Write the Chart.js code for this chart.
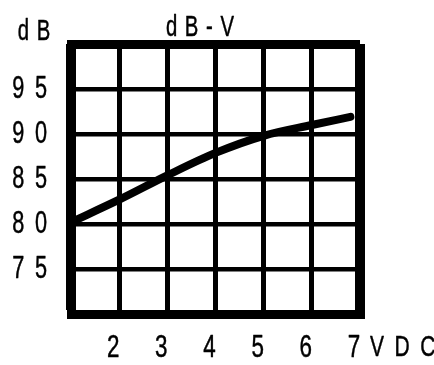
<!DOCTYPE html>
<html>
<head>
<meta charset="utf-8">
<script src="https://cdn.jsdelivr.net/npm/chart.js@4"></script>
<style>
html,body{margin:0;padding:0;background:#fff;overflow:hidden;}
#wrap{width:434px;height:365px;position:relative;}
</style>
</head>
<body>
<div id="wrap"><canvas id="c"></canvas></div>
<script>
// ---- data ----
const voltage = [1, 2, 3, 4, 5, 6, 6.8];
const soundLevel = [80.2, 82.7, 85.4, 87.9, 89.8, 91.0, 91.9];
const yTickValues = [75, 80, 85, 90, 95];
const yTickLabels = ['75', '80', '85', '90', '95'];
const xTickValues = [2, 3, 4, 5, 6, 7];
const xTickLabels = ['2', '3', '4', '5', '6', '7'];
const titleText = 'dB-V';
const yUnitText = 'dB';
const xUnitText = 'VDC';

const FONT = "'Liberation Sans', Arial, sans-serif";
const TEXT_SCALE_X = 0.7;     // tall, narrow lettering of the original print

function spacingFor(font) {
  const m = /(\d+(?:\.\d+)?)px/.exec(font);
  const size = m ? parseFloat(m[1]) : 12;
  return size <= 29 ? 11 : 15;
}

// draws all chart text horizontally condensed, letter-spaced and slightly heavier (text stays real text)
const narrowTextPlugin = {
  id: 'narrowText',
  beforeInit(chart) {
    const ctx = chart.ctx;
    const orig = ctx.fillText;
    ctx.fillText = function (text, x, y) {
      this.save();
      const ls = spacingFor(this.font);
      const align = this.textAlign;
      let shift = 0;
      if (align === 'center') shift = ls * TEXT_SCALE_X / 2;
      else if (align === 'right' || align === 'end') shift = ls * TEXT_SCALE_X;
      this.translate(x + shift, y);
      this.scale(TEXT_SCALE_X, 1);
      this.letterSpacing = ls + 'px';
      orig.call(this, text, 0, 0);
      this.lineWidth = 0.5;
      this.strokeStyle = this.fillStyle;
      this.lineJoin = 'round';
      this.strokeText(text, 0, 0);
      this.restore();
    };
  }
};

const unitPlugin = {
  id: 'units',
  afterDraw(chart) {
    const ctx = chart.ctx;
    const xs = chart.scales.x, ys = chart.scales.y;
    ctx.save();
    ctx.fillStyle = '#000';
    ctx.textBaseline = 'middle';
    ctx.font = `29px ${FONT}`;
    ctx.textAlign = 'center';
    ctx.fillText(yUnitText, 34, ys.getPixelForValue(100) - 12);
    ctx.font = `30px ${FONT}`;
    ctx.textAlign = 'left';
    ctx.fillText(xUnitText, xs.getPixelForValue(7) + 10, xs.top + 15 + 32 * 1.2 / 2);
    ctx.restore();
  }
};

new Chart(document.getElementById('c'), {
  type: 'line',
  data: {
    datasets: [{
      data: voltage.map((v, i) => ({x: v, y: soundLevel[i]})),
      borderColor: '#000',
      borderWidth: 8,
      borderCapStyle: 'round',
      pointRadius: 0,
      cubicInterpolationMode: 'monotone',
      fill: false
    }]
  },
  options: {
    responsive: true,
    maintainAspectRatio: false,
    animation: false,
    layout: {padding: {left: 4, right: 38, top: 0, bottom: 0}},
    plugins: {
      legend: {display: false},
      tooltip: {enabled: false},
      title: {
        display: true,
        text: titleText,
        color: '#000',
        font: {family: FONT, size: 29, weight: 'normal', lineHeight: 1.0},
        padding: {top: 13, bottom: 2}
      }
    },
    scales: {
      x: {
        type: 'linear',
        min: 1, max: 7,
        afterBuildTicks: (s) => { s.ticks = [1].concat(xTickValues).map(v => ({value: v})); },
        afterFit: (s) => { s.height = 51; },
        ticks: {
          color: '#000',
          font: {family: FONT, size: 32},
          padding: 15,
          labelOffset: -6,
          maxRotation: 0,
          autoSkip: false,
          callback: (v) => { const i = xTickValues.indexOf(v); return i < 0 ? '' : xTickLabels[i]; }
        },
        grid: {
          color: '#000',
          drawTicks: false,
          lineWidth: (c) => (c.tick && (c.tick.value === 7 || c.tick.value === 1)) ? 10 : 5
        },
        border: {display: true, color: '#000', width: 9}
      },
      y: {
        min: 70, max: 100,
        afterBuildTicks: (s) => { s.ticks = [70].concat(yTickValues, [100]).map(v => ({value: v})); },
        afterFit: (s) => { s.width = 67; },
        ticks: {
          color: '#000',
          font: {family: FONT, size: 31},
          padding: 24,
          autoSkip: false,
          callback: (v) => { const i = yTickValues.indexOf(v); return i < 0 ? '' : yTickLabels[i]; }
        },
        grid: {
          color: '#000',
          drawTicks: false,
          lineWidth: (c) => (c.tick && (c.tick.value === 100 || c.tick.value === 70)) ? 9 : 4.5
        },
        border: {display: true, color: '#000', width: 9}
      },
      yRight: {
        position: 'right',
        display: true,
        min: 70, max: 100,
        grid: {display: false, drawTicks: false},
        border: {display: false},
        ticks: {display: false},
        afterFit: (s) => { s.width = 36; }
      }
    }
  },
  plugins: [narrowTextPlugin, unitPlugin]
});
</script>
</body>
</html>
